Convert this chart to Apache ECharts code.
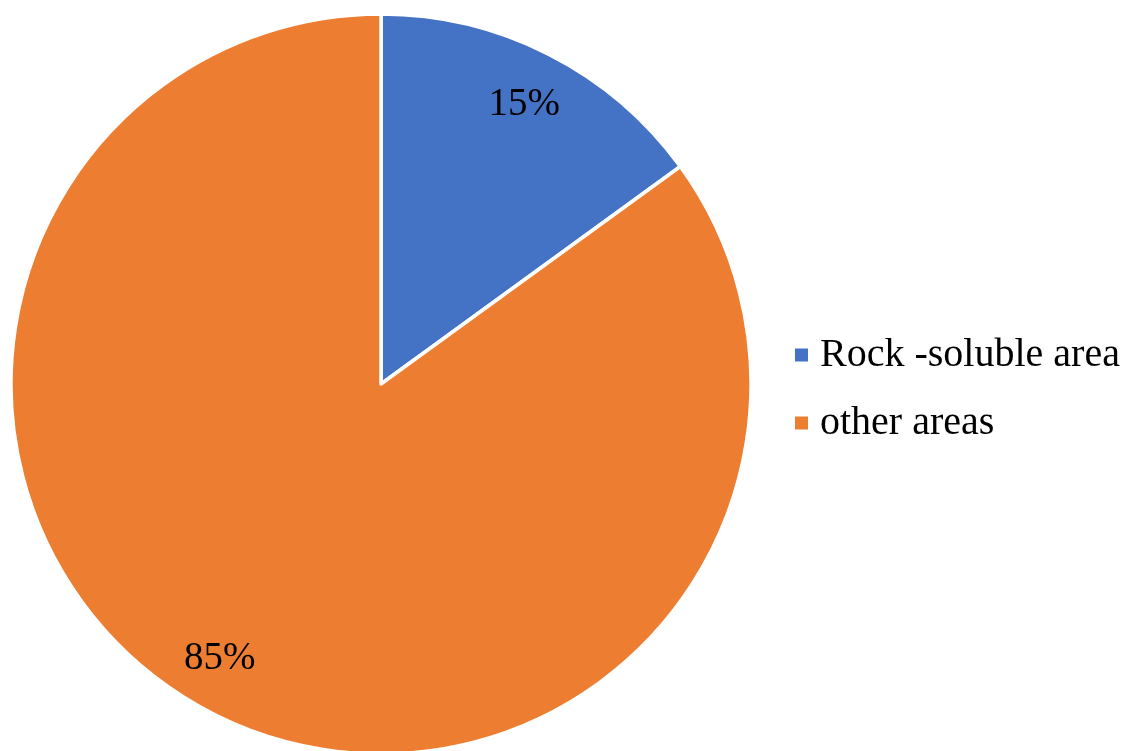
<!DOCTYPE html>
<html>
<head>
<meta charset="utf-8">
<script src="https://cdn.jsdelivr.net/npm/echarts@6/dist/echarts.min.js"></script>
<style>html,body{margin:0;padding:0;background:#fff;}#c{width:1126px;height:751px;}</style>
</head>
<body>
<div id="c"></div>
<script>
const categories = ['Rock -soluble area', 'other areas'];
const values = [15, 85];
const colors = ['#4472C4', '#ED7D31'];

const data = categories.map((n, i) => ({ name: n, value: values[i], itemStyle: { color: colors[i] } }));
const labelOffsets = [[-1, 4], [-17, -8]];
const chart = echarts.init(document.getElementById('c'));
const R = 370;
const center = [381, 384];
chart.setOption({
  animation: false,
  legend: {
    orient: 'vertical',
    left: 790,
    top: 330,
    itemWidth: 13,
    itemHeight: 13,
    itemGap: 28,
    icon: 'rect',
    itemStyle: { borderWidth: 0 },
    data: categories,
    textStyle: { fontFamily: 'Liberation Serif', fontSize: 40, lineHeight: 40, color: '#000', padding: [0, 0, 0, 7] }
  },
  series: [
    {
      type: 'pie',
      center: center,
      radius: [0, R],
      startAngle: 90,
      clockwise: true,
      label: { show: false },
      labelLine: { show: false },
      itemStyle: { borderColor: '#fff', borderWidth: 3.5 },
      emphasis: { disabled: true },
      data: data
    },
    {
      type: 'pie',
      center: center,
      radius: [R * 0.7, R],
      startAngle: 90,
      clockwise: true,
      silent: true,
      legendHoverLink: false,
      label: {
        show: true,
        position: 'inside',
        formatter: '{d}%',
        fontFamily: 'Liberation Serif',
        fontSize: 39,
        color: '#000'
      },
      labelLine: { show: false },
      itemStyle: { color: 'rgba(0,0,0,0)', borderWidth: 0 },
      emphasis: { disabled: true },
      data: categories.map((n, i) => ({ name: n, value: values[i], itemStyle: { color: 'rgba(0,0,0,0)' }, label: { offset: labelOffsets[i] } }))
    }
  ]
});
</script>
</body>
</html>
